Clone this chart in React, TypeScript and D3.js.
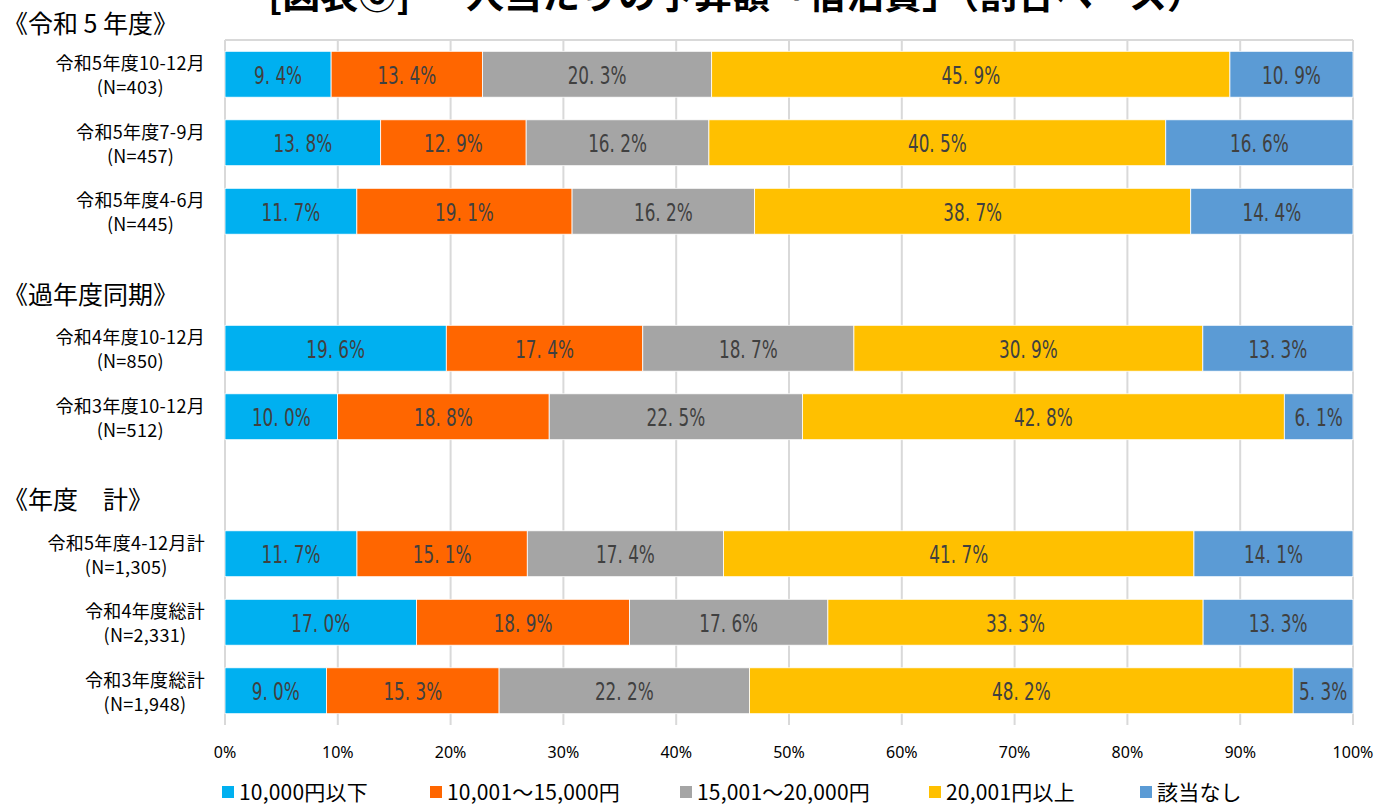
import React, { useEffect, useRef } from "react";
import * as d3 from "d3";

// rows of the chart (top to bottom), blank keys are spacer slots
const rowKeys = ["r1", "r2", "r3", "gap1", "r4", "r5", "gap2", "r6", "r7", "r8"];
const rowLabels = [
  "令和5年度10-12月", "令和5年度7-9月", "令和5年度4-6月",
  "令和4年度10-12月", "令和3年度10-12月",
  "令和5年度4-12月計", "令和4年度総計", "令和3年度総計",
];
const rowCounts = ["(N=403)", "(N=457)", "(N=445)", "(N=850)", "(N=512)", "(N=1,305)", "(N=2,331)", "(N=1,948)"];
const barKeys = ["r1", "r2", "r3", "r4", "r5", "r6", "r7", "r8"];

const seriesNames = ["10,000円以下", "10,001〜15,000円", "15,001〜20,000円", "20,001円以上", "該当なし"];
const seriesColors = ["#00B0F0", "#FF6600", "#A5A5A5", "#FFC000", "#5B9BD5"];

const under10k = [9.4, 13.8, 11.7, 19.6, 10.0, 11.7, 17.0, 9.0];
const from10to15k = [13.4, 12.9, 19.1, 17.4, 18.8, 15.1, 18.9, 15.3];
const from15to20k = [20.3, 16.2, 16.2, 18.7, 22.5, 17.4, 17.6, 22.2];
const over20k = [45.9, 40.5, 38.7, 30.9, 42.8, 41.7, 33.3, 48.2];
const noneApply = [10.9, 16.6, 14.4, 13.3, 6.1, 14.1, 13.3, 5.3];

const groupHeaders = ["《令和 5 年度》", "《過年度同期》", "《年度　計》"];
const groupHeaderAt = ["top", "gap1", "gap2"];

const ticks = [0, 10, 20, 30, 40, 50, 60, 70, 80, 90, 100];
const title = "[図表⑥]  一人当たりの予算額「宿泊費」（割合ベース）";

const jp = "'Noto Sans CJK JP', 'Noto Sans', sans-serif";
const narrow = "'Liberation Sans Narrow', 'DejaVu Sans Condensed', 'Roboto', sans-serif";

const App = () => {
  const svgRef = useRef(null);
  const width = 1395;
  const height = 807;
  const plot = { left: 225, right: 1353, top: 40, bottom: 725 };

  useEffect(() => {
    const svg = d3.select(svgRef.current);
    svg.selectAll("*").remove();

    const values = [under10k, from10to15k, from15to20k, over20k, noneApply];
    const table = barKeys.map((k, i) => {
      const row: any = { key: k };
      const total = d3.sum(values, (s) => s[i]);
      values.forEach((s, j) => {
        row["s" + j] = s[i];
        row["n" + j] = (s[i] / total) * 100;
      });
      return row;
    });

    const stack = d3.stack().keys(seriesNames.map((_, j) => "n" + j));
    const layers = stack(table);

    const x = d3.scaleLinear().domain([0, 100]).range([plot.left, plot.right]);
    const y = d3
      .scaleBand()
      .domain(rowKeys)
      .range([plot.top, plot.bottom])
      .paddingInner(0.33)
      .paddingOuter(0.165);

    // title (cut off at the top, as in the source picture)
    svg.append("text")
      .attr("x", 268)
      .attr("y", 8)
      .attr("font-family", jp)
      .attr("font-weight", "bold")
      .attr("font-size", 38)
      .attr("fill", "#000")
      .style("white-space", "pre")
      .text(title);

    // grid
    const grid = svg.append("g");
    grid.selectAll("line")
      .data(ticks)
      .enter()
      .append("line")
      .attr("x1", (d) => x(d))
      .attr("x2", (d) => x(d))
      .attr("y1", plot.top)
      .attr("y2", plot.bottom)
      .attr("stroke", "#D9D9D9")
      .attr("stroke-width", 2);
    grid.append("line")
      .attr("x1", plot.left).attr("x2", plot.right)
      .attr("y1", plot.top).attr("y2", plot.top)
      .attr("stroke", "#D9D9D9").attr("stroke-width", 2);

    // bars
    layers.forEach((layer, j) => {
      const g = svg.append("g");
      g.selectAll("rect")
        .data(layer)
        .enter()
        .append("rect")
        .attr("x", (d) => x(d[0]))
        .attr("y", (d: any) => y(d.data.key))
        .attr("width", (d) => x(d[1]) - x(d[0]))
        .attr("height", y.bandwidth())
        .attr("fill", seriesColors[j])
        .attr("stroke", "#fff")
        .attr("stroke-width", 0.8);
      g.selectAll("text")
        .data(layer)
        .enter()
        .append("text")
        .attr("transform", (d: any) =>
          `translate(${(x(d[0]) + x(d[1])) / 2},${y(d.data.key) + y.bandwidth() / 2 + 1}) scale(0.78,1)`)
        .attr("text-anchor", "middle")
        .attr("dominant-baseline", "central")
        .attr("font-family", narrow)
        .attr("font-size", 24)
        .attr("fill", "#404040")
        .text((d: any) => d.data["s" + j].toFixed(1).replace(".", ". ") + "%");
    });

    // category labels, two lines, second one centred under the first
    const labels = svg.append("g")
      .attr("font-family", jp)
      .attr("font-size", 18)
      .attr("letter-spacing", 0.3)
      .attr("fill", "#000");
    barKeys.forEach((k, i) => {
      const cy = y(k) + y.bandwidth() / 2;
      const first = labels.append("text")
        .attr("x", 205)
        .attr("y", cy - 12)
        .attr("text-anchor", "end")
        .attr("dominant-baseline", "central")
        .text(rowLabels[i]);
      const w = (first.node() as any).getComputedTextLength();
      labels.append("text")
        .attr("x", 205 - w / 2)
        .attr("y", cy + 12)
        .attr("text-anchor", "middle")
        .attr("dominant-baseline", "central")
        .text(rowCounts[i]);
    });

    // group headers
    groupHeaders.forEach((h, i) => {
      const key = groupHeaderAt[i];
      const cy = key === "top" ? 22 : y(key) + y.bandwidth() / 2 + 13;
      svg.append("text")
        .attr("x", 3)
        .attr("y", cy)
        .attr("dominant-baseline", "central")
        .attr("font-family", jp)
        .attr("font-size", 25)
        .attr("fill", "#000")
        .text(h);
    });

    // x axis labels
    svg.append("g")
      .selectAll("text")
      .data(ticks)
      .enter()
      .append("text")
      .attr("x", (d) => x(d))
      .attr("y", 752)
      .attr("text-anchor", "middle")
      .attr("dominant-baseline", "central")
      .attr("font-family", "'Noto Sans', sans-serif")
      .attr("font-size", 16)
      .attr("fill", "#000")
      .text((d) => d + "%");

    // legend
    const legendX = [222, 430, 680, 929, 1140];
    const legend = svg.append("g");
    seriesNames.forEach((name, j) => {
      legend.append("rect")
        .attr("x", legendX[j])
        .attr("y", 786)
        .attr("width", 12)
        .attr("height", 12)
        .attr("fill", seriesColors[j]);
      legend.append("text")
        .attr("x", legendX[j] + 17)
        .attr("y", 791)
        .attr("dominant-baseline", "central")
        .attr("font-family", jp)
        .attr("font-size", 21)
        .attr("letter-spacing", 0.2)
        .attr("fill", "#000")
        .text(name);
    });
  }, []);

  return (
    <svg
      ref={svgRef}
      width={width}
      height={height}
      style={{ position: "absolute", left: 0, top: 0, background: "#fff" }}
    />
  );
};

export default App;
